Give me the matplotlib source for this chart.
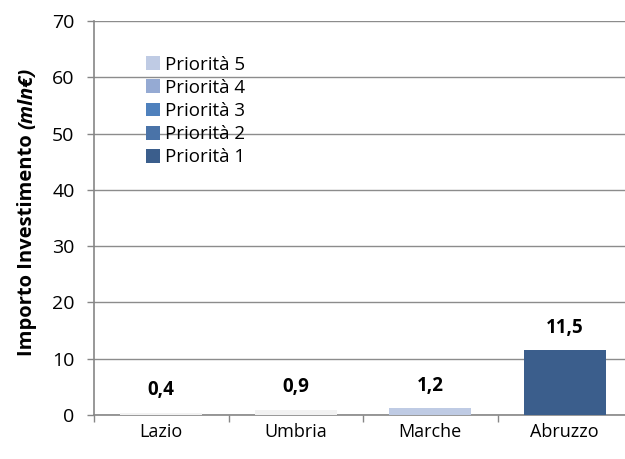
import matplotlib
matplotlib.use("Agg")
import matplotlib.pyplot as plt
import numpy as np

plt.rcParams['font.family'] = ['Open Sans', 'DejaVu Sans']

regions = ["Lazio", "Umbria", "Marche", "Abruzzo"]
series_names = ["Priorità 1", "Priorità 2", "Priorità 3", "Priorità 4", "Priorità 5"]
p1 = [0.0, 0.0, 0.0, 11.5]
p2 = [0.0, 0.0, 0.0, 0.0]
p3 = [0.0, 0.0, 0.0, 0.0]
p4 = [0.0, 0.0, 0.0, 0.0]
p5 = [0.0, 0.0, 1.2, 0.0]
other = [0.4, 0.9, 0.0, 0.0]   # near-white segments without legend entry
totals = [0.4, 0.9, 1.2, 11.5]
total_labels = ["0,4", "0,9", "1,2", "11,5"]
yticks = [0, 10, 20, 30, 40, 50, 60, 70]

colors = ["#3b5e8c", "#4a73a8", "#4f81bd", "#95aad3", "#bfcbe4"]

fig = plt.figure(figsize=(6.25, 4.59), dpi=100)
ax = fig.add_axes([94/625, 1-415/459, 538/625, (415-21)/459])

x = np.arange(len(regions))
w = 0.61
bottom = np.zeros(len(regions))
handles = []
for name, vals, c in zip(series_names, [p1, p2, p3, p4, p5], colors):
    b = ax.bar(x, vals, w, bottom=bottom, color=c, label=name, zorder=3)
    handles.append(b)
    bottom += np.array(vals)
ax.bar(x, other, w, bottom=bottom, color="#f2f2f2", zorder=3, label="_nolegend_")

for xi, t, lab in zip(x, totals, total_labels):
    ax.annotate(lab, (xi, t), xytext=(0, 9), textcoords='offset points',
                ha='center', va='bottom', fontsize=13.5, fontweight='bold')

ax.set_xlim(-0.5, 3.5)
ax.set_ylim(0, 70)
ax.set_yticks(yticks)
ax.set_yticklabels([str(v) for v in yticks], fontsize=14)
ax.yaxis.grid(True, color="#8c8c8c", linewidth=1, zorder=0)
ax.set_axisbelow(True)

ax.set_xticks(x)
ax.set_xticklabels(regions, fontsize=13)
ax.tick_params(axis='x', length=0, pad=6)
ax.set_xticks(np.arange(-0.5, 4.0, 1.0), minor=True)
ax.tick_params(axis='x', which='minor', length=5, color="#868686", width=1)
ax.tick_params(axis='y', length=5, color="#868686", width=1, pad=9)

for s in ['top', 'right']:
    ax.spines[s].set_visible(False)
for s in ['left', 'bottom']:
    ax.spines[s].set_color("#868686")
    ax.spines[s].set_linewidth(1.2)

leg = ax.legend(handles=handles[::-1], loc='upper left',
                bbox_to_anchor=(44/538, (415-48)/394), frameon=False,
                fontsize=13.5, handlelength=0.75, handleheight=0.75,
                handletextpad=0.27, labelspacing=0.28, borderaxespad=0)

# y label with bold + bold italic parts
fig.canvas.draw()
r = fig.canvas.get_renderer()
t1 = fig.text(27/625, 1-356/459, "Importo Investimento ", rotation=90,
              ha='center', va='bottom', fontsize=14.5, fontweight='bold')
bb = t1.get_window_extent(r)
fig.text(27/625, bb.y1/fig.bbox.height, "(mln€)", rotation=90,
         ha='center', va='bottom', fontsize=14.5, fontweight='bold', style='italic')

fig.savefig("out.png", dpi=100)
